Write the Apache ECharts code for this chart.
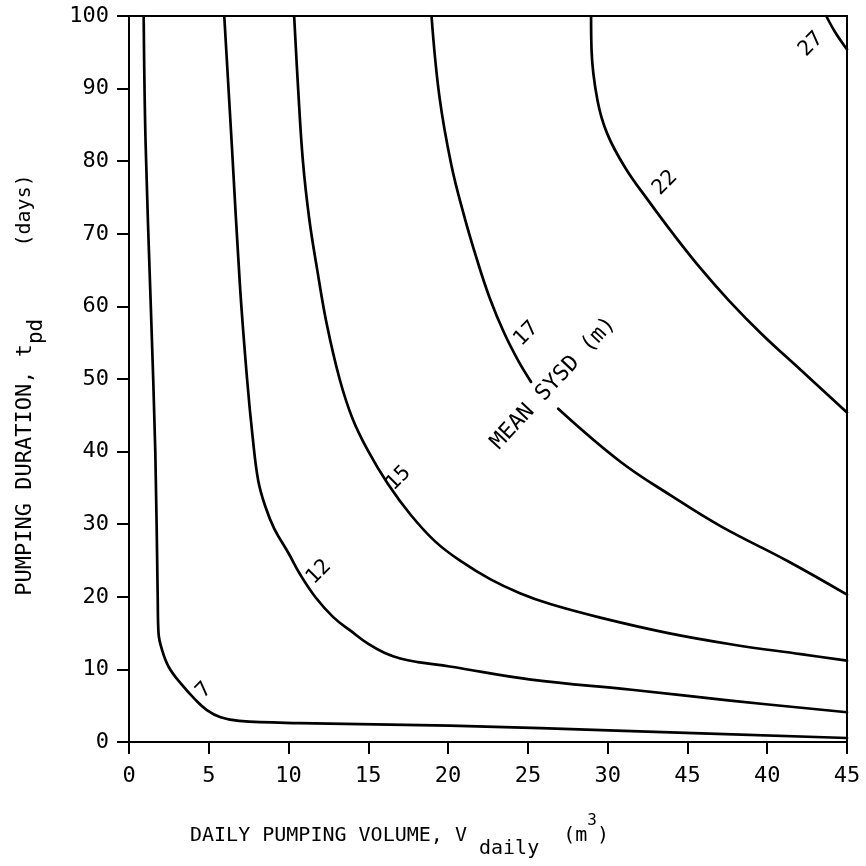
<!DOCTYPE html>
<html><head><meta charset="utf-8">
<script src="https://cdn.jsdelivr.net/npm/echarts@6/dist/echarts.min.js"></script>
<style>html,body{margin:0;padding:0;background:#fff}#c{width:866px;height:866px}</style>
</head><body><div id="c"></div>
<script>
// ---- data ----
const xTickLabels = ['0','5','10','15','20','25','30','45','40','45']; // as printed (0..45 step 5)
const yTickLabels = ['0','10','20','30','40','50','60','70','80','90','100'];

// Contours of mean SYSD (m): [daily volume, duration]
const sysd7 = [[0.92,100],[1.04,82.5],[1.37,59.8],[1.65,39.8],[1.8,19.8],[1.85,15.0],[2.07,12.7],[2.5,10.3],[3.23,8.1],[4.17,5.8],[4.88,4.4],[5.74,3.4],[6.9,2.9],[10.7,2.6],[20.1,2.25],[31.5,1.5],[45,0.55]];
const sysd12 = [[5.97,100],[6.45,82],[6.95,63],[7.4,50],[7.75,42],[8.1,36],[8.55,32.4],[9.1,29.4],[10.0,26.0],[10.75,23.0],[11.7,19.9],[12.8,17.2],[13.9,15.3],[15.0,13.5],[16.0,12.3],[17.0,11.5],[18.1,11.0],[20.1,10.4],[25.2,8.6],[31.5,7.2],[37.7,5.7],[45,4.1]];
const sysd15 = [[10.35,100],[10.6,90],[10.9,80],[11.3,72],[11.8,65],[12.4,57.5],[13.2,50],[14.0,44.6],[14.96,40.2],[16.21,35.6],[17.65,31.3],[19.2,27.6],[20.8,24.9],[22.66,22.4],[24.5,20.5],[26.4,19.0],[29.6,17.1],[33.8,15.0],[37.9,13.4],[42.1,12.1],[45,11.2]];
const sysd17Upper = [[18.96,100],[19.45,89],[20.2,79.5],[21.0,72.5],[21.8,66.5],[22.6,61.2],[23.5,56.4],[24.4,52.5],[25.2,49.6]];
const sysd17Lower = [[26.9,45.9],[30.8,38.6],[34.0,33.9],[37.1,29.7],[41.3,24.9],[45,20.3]];
const sysd22 = [[28.96,100],[28.99,95.3],[29.36,88.4],[29.97,83.8],[31.1,79.1],[32.54,74.6],[34.1,70.0],[35.8,65.3],[37.6,60.8],[39.65,56.2],[41.97,51.5],[45,45.4]];
const sysd27 = [[43.7,100],[44.25,97.8],[45,95.4]];

const contourLabelText = ['7','12','15','17','22','27','MEAN SYSD (m)'];
const contourLabelPos = [[4.7,7.1],[11.9,23.4],[16.9,36.3],[24.9,56.2],[33.6,77.0],[42.75,96.1],[26.6,49.4]];

// ---- chart ----
const MONO = '"DejaVu Sans Mono", "Liberation Mono", monospace';
const chart = echarts.init(document.getElementById('c'), null, {renderer:'canvas'});

function curve(name, data) {
  return {
    name, type:'line', data, showSymbol:false, symbol:'none', smooth:0.4,
    lineStyle:{color:'#000', width:2.7, cap:'round', join:'round'}, silent:true, clip:true, z:3
  };
}

const labelData = contourLabelText.map((t, i) => ({
  value: contourLabelPos[i],
  label: {
    show:true, formatter:t, rotate: i === 6 ? 47 : 45,
    fontSize: i === 6 ? 22 : 21, color:'#000', opacity:1
  }
}));

chart.setOption({
  animation:false,
  backgroundColor:'#fff',
  grid:{left:129, right:19, top:16, bottom:124, show:true, borderColor:'#000', borderWidth:2, outerBoundsMode:'none'},
  xAxis:{
    type:'value', min:0, max:45, interval:5,
    axisLine:{show:true, onZero:false, lineStyle:{color:'#000', width:2}},
    axisTick:{show:true, inside:false, length:12, lineStyle:{color:'#000', width:2}},
    axisLabel:{margin:23, color:'#000', fontSize:22, fontFamily:MONO,
      formatter:(v) => xTickLabels[Math.round(v/5)]},
    splitLine:{show:false}
  },
  yAxis:{
    type:'value', min:0, max:100, interval:10,
    axisLine:{show:true, onZero:false, lineStyle:{color:'#000', width:2}},
    axisTick:{show:true, inside:false, length:12, lineStyle:{color:'#000', width:2}},
    axisLabel:{margin:20, color:'#000', fontSize:22, fontFamily:MONO,
      formatter:(v) => yTickLabels[Math.round(v/10)]},
    splitLine:{show:false}
  },
  series:[
    curve('7', sysd7), curve('12', sysd12), curve('15', sysd15),
    curve('17a', sysd17Upper), curve('17b', sysd17Lower),
    curve('22', sysd22), curve('27', sysd27),
    {
      type:'scatter', data:labelData, symbolSize:1, itemStyle:{color:'rgba(0,0,0,0)'},
      silent:true, z:4, emphasis:{disabled:true},
      label:{show:true, position:'inside', color:'#000', fontFamily:MONO}
    }
  ],
  graphic:[
    {
      type:'text', x:190, y:836, silent:true,
      style:{
        text:'{m|DAILY PUMPING VOLUME, V}{s| daily}{m|  (m}{p|3}{m|)}',
        align:'left', verticalAlign:'middle', fill:'#000',
        rich:{
          m:{fontSize:20, lineHeight:46, fontFamily:MONO, fill:'#000'},
          s:{fontSize:20, lineHeight:20, fontFamily:MONO, verticalAlign:'bottom', fill:'#000'},
          p:{fontSize:16, lineHeight:16, fontFamily:MONO, verticalAlign:'top', fill:'#000'}
        }
      }
    },
    {
      type:'text', x:25, y:385, rotation:Math.PI/2, silent:true,
      style:{
        text:'{m|PUMPING DURATION, t}{s|pd}{d|      (days)}',
        align:'center', verticalAlign:'middle', fill:'#000',
        rich:{
          m:{fontSize:22, lineHeight:44, fontFamily:MONO, fill:'#000'},
          s:{fontSize:21, lineHeight:21, fontFamily:MONO, verticalAlign:'bottom', fill:'#000'},
          d:{fontSize:20, lineHeight:44, fontFamily:MONO, fill:'#000'}
        }
      }
    }
  ]
});
</script></body></html>
